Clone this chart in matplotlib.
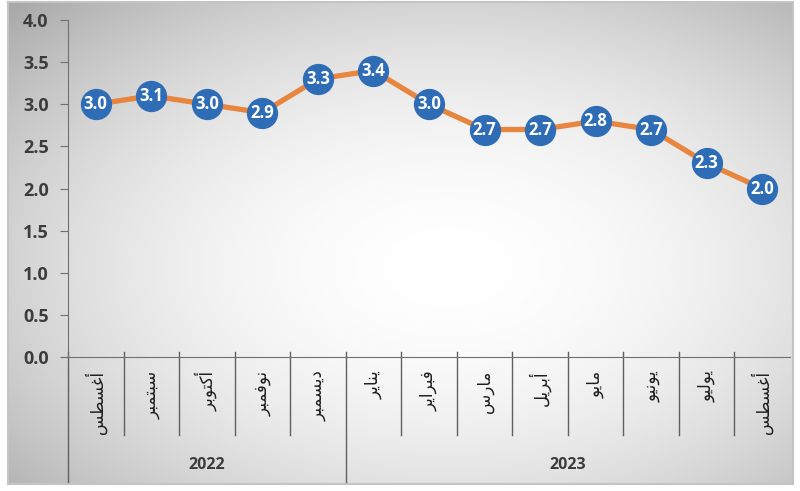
import numpy as np
import matplotlib.pyplot as plt

# data
months = ["أغسطس", "سبتمبر", "أكتوبر", "نوفمبر", "ديسمبر", "يناير", "فبراير",
          "مارس", "أبريل", "مايو", "يونيو", "يوليو", "أغسطس"]
values = [3.0, 3.1, 3.0, 2.9, 3.3, 3.4, 3.0, 2.7, 2.7, 2.8, 2.7, 2.3, 2.0]
years = ["2022", "2023"]
year_counts = [5, 8]
yticks = [0.0, 0.5, 1.0, 1.5, 2.0, 2.5, 3.0, 3.5, 4.0]

# minimal arabic shaping (isolated, final, initial, medial)
FORMS = {
    'ا': ('\uFE8D', '\uFE8E', None, None),
    'أ': ('\uFE83', '\uFE84', None, None),
    'د': ('\uFEA9', '\uFEAA', None, None),
    'ر': ('\uFEAD', '\uFEAE', None, None),
    'و': ('\uFEED', '\uFEEE', None, None),
    'ب': ('\uFE8F', '\uFE90', '\uFE91', '\uFE92'),
    'ت': ('\uFE95', '\uFE96', '\uFE97', '\uFE98'),
    'س': ('\uFEB1', '\uFEB2', '\uFEB3', '\uFEB4'),
    'ط': ('\uFEC1', '\uFEC2', '\uFEC3', '\uFEC4'),
    'غ': ('\uFECD', '\uFECE', '\uFECF', '\uFED0'),
    'ف': ('\uFED1', '\uFED2', '\uFED3', '\uFED4'),
    'ك': ('\uFED9', '\uFEDA', '\uFEDB', '\uFEDC'),
    'ل': ('\uFEDD', '\uFEDE', '\uFEDF', '\uFEE0'),
    'م': ('\uFEE1', '\uFEE2', '\uFEE3', '\uFEE4'),
    'ن': ('\uFEE5', '\uFEE6', '\uFEE7', '\uFEE8'),
    'ي': ('\uFEF1', '\uFEF2', '\uFEF3', '\uFEF4'),
}


def shape(word):
    out = []
    n = len(word)
    for i, ch in enumerate(word):
        f = FORMS[ch]
        prev = i > 0 and FORMS[word[i - 1]][2] is not None
        nxt = i < n - 1 and f[2] is not None
        if prev and nxt:
            out.append(f[3])
        elif prev:
            out.append(f[1])
        elif nxt:
            out.append(f[2])
        else:
            out.append(f[0])
    return ''.join(out[::-1])


fig = plt.figure(figsize=(8, 4.91), dpi=100)

# radial gradient background
bg = fig.add_axes([8 / 800, 7 / 491, 785 / 800, 482 / 491])
h, w = 482, 785
yy, xx = np.mgrid[0:h, 0:w]
r2 = ((xx - 0.56 * w) / (0.68 * w)) ** 2 + ((yy - 0.55 * h) / (0.68 * h)) ** 2
g = np.clip(1 - 0.26 * r2, 0, 1)
bg.imshow(np.dstack([g, g, g]), aspect='auto', extent=[0, 1, 0, 1])
bg.set_xticks([])
bg.set_yticks([])
for s in bg.spines.values():
    s.set_color('#c4c4c4')
    s.set_linewidth(1.5)

ax = fig.add_axes([68 / 800, 134 / 491, 722 / 800, 337 / 491])
ax.patch.set_alpha(0)
x = np.arange(len(values))
ax.plot(x, values, color='#e8853f', lw=3.8, zorder=2,
        marker='o', ms=21.5, mfc='#2e6db6', mec='#2e6db6', clip_on=False)
for xi, v in zip(x, values):
    ax.text(xi, v, f"{v:.1f}", color='white', fontsize=12, fontweight='bold',
            family='Open Sans', ha='center', va='center', zorder=3)

ax.set_xlim(-0.5, len(values) - 0.5)
ax.set_ylim(0, 4)
ax.set_yticks(yticks)
ax.set_yticklabels([f"{t:.1f}" for t in yticks], fontsize=13, color='#3c3c3c',
                   fontweight='bold', family='Open Sans')
ax.set_xticks([])
ax.tick_params(axis='y', length=6, color='#707070', pad=8)
for s in ['top', 'right']:
    ax.spines[s].set_visible(False)
ax.spines['left'].set_color('#707070')
ax.spines['bottom'].set_color('#707070')
ax.spines['bottom'].set_bounds(-0.62, len(values) - 0.5)

tr = ax.get_xaxis_transform()
# month labels and separators
for i, m in enumerate(months):
    ax.text(i, -0.04, shape(m), rotation=90, ha='center', va='top',
            fontsize=12, color='#1e1e1e', family='DejaVu Sans', transform=tr)
bounds = np.cumsum([0] + year_counts) - 0.5
for b in np.arange(0.5, len(values) - 1):
    if b in bounds:
        continue
    ax.plot([b, b], [0.015, -0.23], color='#606060', lw=1, transform=tr, clip_on=False)
for b in bounds[:-1]:
    ax.plot([b, b], [0.015, -0.37], color='#606060', lw=1, transform=tr, clip_on=False)

# year labels
start = -0.5
for yr, c in zip(years, year_counts):
    ax.text(start + c / 2, -0.32, yr, ha='center', va='center', fontsize=11.5,
            color='#3c3c3c', fontweight='bold', family='Open Sans', transform=tr)
    start += c

fig.savefig('out.png', dpi=100)
